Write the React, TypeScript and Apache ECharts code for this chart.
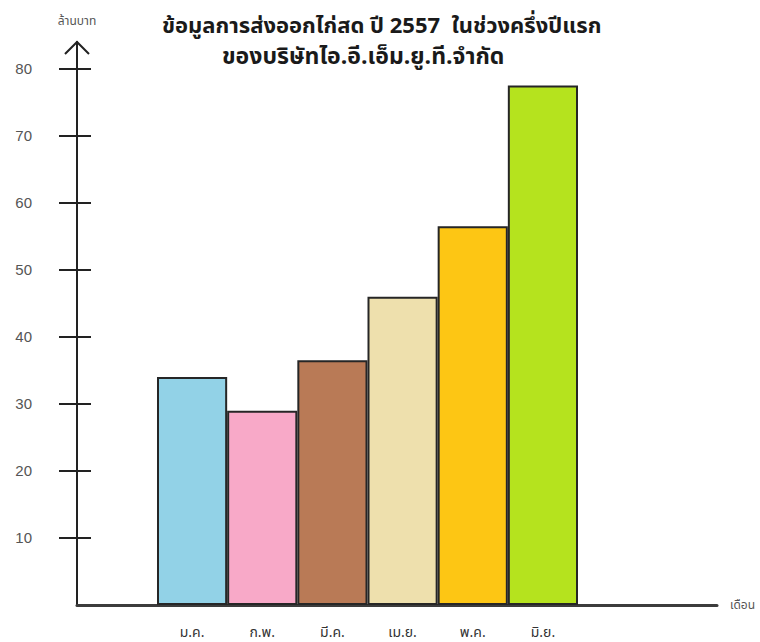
import React, { useEffect, useRef } from "react";
import * as echarts from "echarts";

// Monthly fresh-chicken export value, first half of 2557 (million baht)
const months = ["ม.ค.", "ก.พ.", "มี.ค.", "เม.ย.", "พ.ค.", "มิ.ย."];
const exportValues = [34, 29, 36.5, 46, 56.5, 77.5];
const barColors = ["#92d2e7", "#f8a9c8", "#b97a56", "#eee0ad", "#fdc614", "#b5e31e"];
const yTicks = [10, 20, 30, 40, 50, 60, 70, 80];
const titleLines = [
  "ข้อมูลการส่งออกไก่สด ปี 2557  ในช่วงครึ่งปีแรก",
  "ของบริษัทไอ.อี.เอ็ม.ยู.ที.จำกัด",
];
const yUnit = "ล้านบาท";
const xUnit = "เดือน";

const W = 760;
const H = 642;
const AXIS_LEFT = 77;
const AXIS_RIGHT = 43;
const PLOT_TOP = 42;
const PLOT_BOTTOM = 37;
const BARS_LEFT = 157;
const BARS_RIGHT = 182;
const Y_MAX = 84;
const FONT = "'Noto Sans Thai', Tahoma, 'Liberation Sans', 'DejaVu Sans', sans-serif";
const DIGIT_FONT = "'Liberation Sans', Arial, sans-serif";

export default function App() {
  const ref = useRef<HTMLDivElement>(null);

  useEffect(() => {
    if (!ref.current) return;
    const chart = echarts.init(ref.current, undefined, { renderer: "svg" });

    const titleStyle = { fontFamily: FONT, fontWeight: "bold" as const, color: "#1a1a1a" };

    const option: echarts.EChartsOption = {
      animation: false,
      backgroundColor: "#ffffff",
      title: [
        { text: titleLines[0], left: 157, top: 10, textStyle: { ...titleStyle, fontSize: 22 } },
        { text: titleLines[1], left: 217, top: 40, textStyle: { ...titleStyle, fontSize: 23 } },
      ],
      grid: [
        { left: AXIS_LEFT, right: AXIS_RIGHT, top: PLOT_TOP, bottom: PLOT_BOTTOM },
        { left: BARS_LEFT, right: BARS_RIGHT, top: PLOT_TOP, bottom: PLOT_BOTTOM },
      ],
      xAxis: [
        {
          gridIndex: 0,
          type: "value",
          min: 0,
          max: 1,
          axisLine: { show: true, lineStyle: { color: "#3c3c3c", width: 3 } },
          axisTick: { show: false },
          axisLabel: { show: false },
          splitLine: { show: false },
          name: xUnit,
          nameLocation: "end",
          nameGap: 13,
          nameTextStyle: { fontFamily: FONT, fontSize: 12, color: "#555", verticalAlign: "middle" },
        },
        {
          gridIndex: 1,
          type: "category",
          data: months,
          axisLine: { show: false },
          axisTick: { show: false },
          axisLabel: { margin: 20, fontFamily: FONT, fontSize: 14, lineHeight: 14, color: "#333" },
        },
      ],
      yAxis: [
        {
          gridIndex: 0,
          type: "value",
          position: "left",
          min: 0,
          max: Y_MAX,
          axisLine: { show: true, lineStyle: { color: "#222", width: 2 } },
          axisTick: { show: true, length: 18, customValues: yTicks, lineStyle: { color: "#222", width: 2 } },
          axisLabel: { margin: 45, customValues: yTicks, fontFamily: DIGIT_FONT, fontSize: 15, color: "#555" },
          splitLine: { show: false },
          name: yUnit,
          nameLocation: "end",
          nameGap: 15,
          nameTextStyle: { fontFamily: FONT, fontSize: 12, color: "#555" },
        },
        {
          gridIndex: 0,
          type: "value",
          position: "left",
          min: 0,
          max: Y_MAX,
          axisLine: { show: false },
          axisTick: { show: true, inside: true, length: 14, customValues: yTicks, lineStyle: { color: "#222", width: 2 } },
          axisLabel: { show: false },
          splitLine: { show: false },
        },
        {
          gridIndex: 1,
          type: "value",
          min: 0,
          max: Y_MAX,
          show: false,
          splitLine: { show: false },
        },
      ],
      series: [
        {
          type: "bar",
          xAxisIndex: 1,
          yAxisIndex: 2,
          barCategoryGap: "0%",
          data: exportValues.map((v, i) => ({
            value: v,
            itemStyle: { color: barColors[i] },
          })),
          itemStyle: { borderColor: "#262626", borderWidth: 2 },
        },
      ],
      graphic: [
        {
          type: "polyline",
          shape: {
            points: [
              [AXIS_LEFT - 12, PLOT_TOP + 12],
              [AXIS_LEFT, PLOT_TOP],
              [AXIS_LEFT + 12, PLOT_TOP + 12],
            ],
          },
          style: { stroke: "#222", lineWidth: 2, fill: "none" },
        },
      ],
    };

    chart.setOption(option);
    return () => chart.dispose();
  }, []);

  return (
    <div
      ref={ref}
      style={{ position: "fixed", left: 0, top: 0, width: W, height: H, background: "#fff" }}
    />
  );
}
